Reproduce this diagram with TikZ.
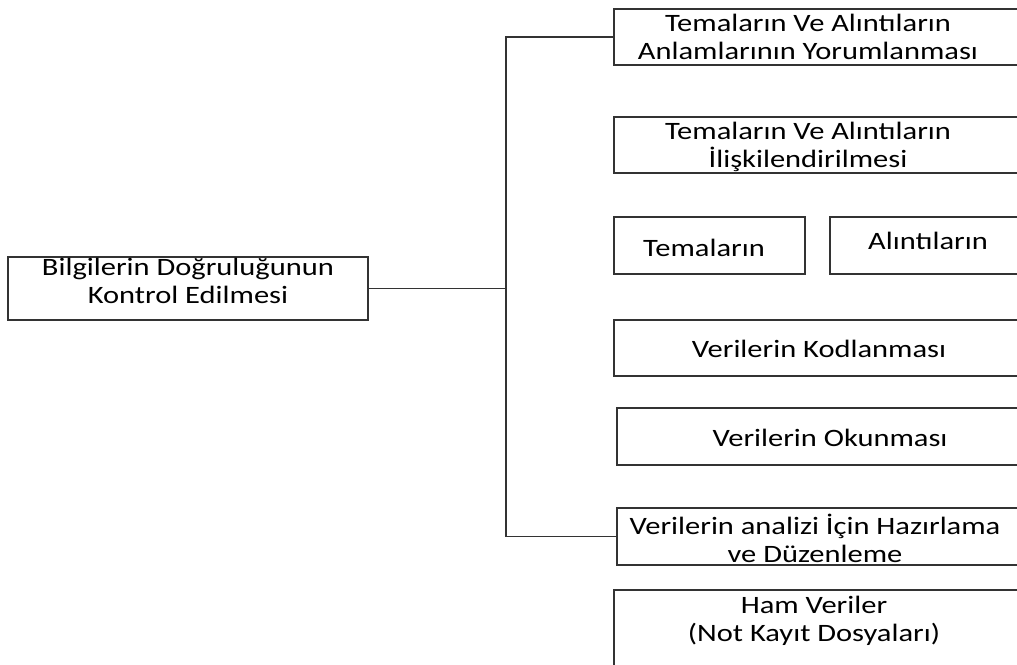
\documentclass[tikz,border=0pt]{standalone}
\usepackage{fontspec}
\setmainfont{Carlito}[FakeStretch=1.22]
\begin{document}
\begin{tikzpicture}[x=1pt,y=-1pt,
  boxn/.style={draw=black!80, line width=1.8pt, rectangle, inner sep=0pt},
  txt/.style={align=center, font=\fontsize{25}{28}\selectfont, inner sep=0pt},
  conn/.style={draw=black!80, line width=1.8pt}]
\useasboundingbox (0,0) rectangle (1017,664);
\clip (0,0) rectangle (1017,664);
% boxes
\node[boxn, minimum width=360pt, minimum height=63pt] (L) at (188,288.5) {};
\node[boxn, minimum width=416pt, minimum height=56pt] (b1) at (822,37) {};
\node[boxn, minimum width=416pt, minimum height=56pt] (b2) at (822,145) {};
\node[boxn, minimum width=191pt, minimum height=57pt] (b3a) at (709.5,245.5) {};
\node[boxn, minimum width=200pt, minimum height=57pt] (b3b) at (930,245.5) {};
\node[boxn, minimum width=416pt, minimum height=56pt] (b4) at (822,348) {};
\node[boxn, minimum width=413pt, minimum height=57pt] (b5) at (823.5,436.5) {};
\node[boxn, minimum width=413pt, minimum height=57pt] (b6) at (823.5,536.5) {};
\node[boxn, minimum width=416pt, minimum height=90pt] (b7) at (822,635) {};
% texts
\node[txt] (tL) at (188,281) {Bilgilerin Doğruluğunun\\Kontrol Edilmesi};
\node[txt] (t1) at (808,37) {Temaların Ve Alıntıların\\Anlamlarının Yorumlanması};
\node[txt] (t2) at (808,147) {Temaların Ve Alıntıların\\İlişkilendirilmesi};
\node[txt] (t3a) at (704,248) {Temaların};
\node[txt] (t3b) at (928,241) {Alıntıların};
\node[txt] (t4) at (819,349) {Verilerin Kodlanması};
\node[txt] (t5) at (830,438) {Verilerin Okunması};
\node[txt] (t6) at (815,538) {Verilerin analizi İçin Hazırlama\\ve Düzenleme};
\node[txt] (t7) at (814,621) {Ham Veriler\\(Not Kayıt Dosyaları)};
% connectors
\coordinate (top) at (506,37);
\coordinate (bot) at (506,536.5);
\draw[conn] (b1.west) -- (top) -- (bot) -- (b6.west);
\draw[conn] (L.east) -- (L.east -| top);
\end{tikzpicture}
\end{document}
